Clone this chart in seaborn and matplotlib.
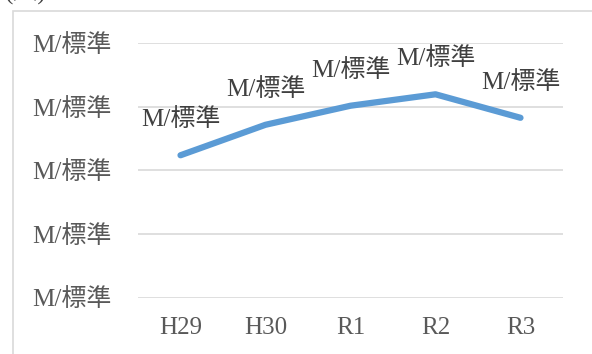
import matplotlib
matplotlib.use("Agg")
import matplotlib.pyplot as plt
from matplotlib.patches import Rectangle
from matplotlib.ticker import FuncFormatter
import seaborn as sns
import pandas as pd

# Fiscal years and values (axis units)
years = ["H29", "H30", "R1", "R2", "R3"]
values = [2.24, 2.72, 3.02, 3.20, 2.83]
y_ticks = [0, 1, 2, 3, 4]
label_text = "M/標準"
unit_text = "(人)"

sns.set_theme(style="white")
plt.rcParams["font.family"] = ["Liberation Serif", "Noto Sans CJK JP", "DejaVu Sans"]

df = pd.DataFrame({"year": years, "value": values})

fig = plt.figure(figsize=(5.92, 3.54), dpi=100)
ax = fig.add_axes([138 / 592, 56.5 / 354, 425 / 592, 254 / 354])

sns.lineplot(data=df, x="year", y="value", ax=ax, color="#5B9BD5",
             linewidth=4.5, sort=False, solid_capstyle="round",
             solid_joinstyle="round")

ax.set_xlim(-0.5, len(years) - 0.5)
ax.set_ylim(y_ticks[0], y_ticks[-1])
ax.set_yticks(y_ticks)
ax.yaxis.set_major_formatter(FuncFormatter(lambda v, p: label_text))
ax.set_xlabel("")
ax.set_ylabel("")

for s in ax.spines.values():
    s.set_visible(False)
ax.grid(axis="y", color="#d9d9d9", linewidth=1.2)
ax.grid(axis="x", visible=False)
ax.set_axisbelow(True)
ax.tick_params(axis="y", length=0, pad=19, labelsize=18, labelcolor="#595959")
ax.tick_params(axis="x", length=0, pad=14, labelsize=18, labelcolor="#595959")

for i, v in enumerate(values):
    ax.annotate(label_text, xy=(i, v), xytext=(0, 25.5), textcoords="offset points",
                ha="center", va="center", fontsize=18, color="#404040",
                annotation_clip=False)

# chart frame (left and top edges visible)
fig.patches.append(Rectangle((13 / 592, -0.1), 1.2, (354 - 11) / 354 + 0.1,
                             transform=fig.transFigure, fill=False,
                             edgecolor="#d9d9d9", linewidth=1.2))
fig.text(5 / 592, (354 - 4) / 354, unit_text, ha="left", va="bottom",
         fontsize=18, color="#404040")

fig.savefig("out.png", dpi=100)
